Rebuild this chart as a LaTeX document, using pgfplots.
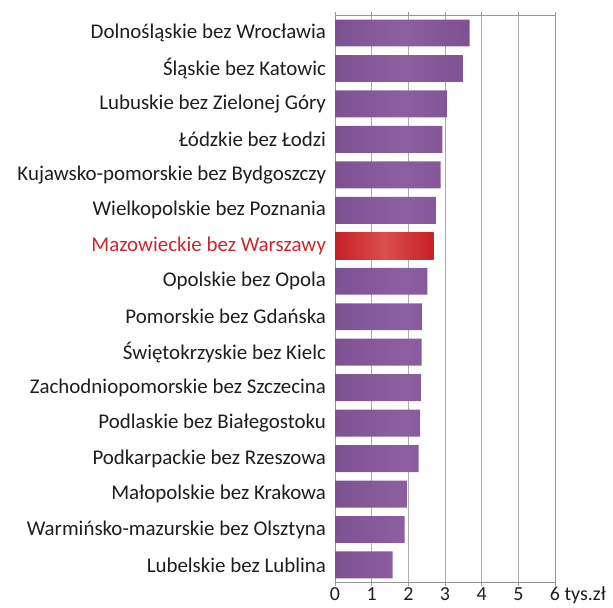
\documentclass[border=0pt]{standalone}
\usepackage{pgfplots}
\pgfplotsset{compat=1.18}
\usepackage{fontspec}
\setmainfont{Carlito}
\definecolor{purpE}{RGB}{126,82,146}
\definecolor{purpM}{RGB}{140,96,160}
\definecolor{redE}{RGB}{198,32,38}
\definecolor{redM}{RGB}{218,78,76}
\definecolor{labred}{RGB}{200,40,45}
\definecolor{txt}{RGB}{30,30,30}
\begin{document}
\begin{tikzpicture}[x=1bp,y=1bp]
\path[use as bounding box] (0,0) rectangle (613,608);
\begin{axis}[
  at={(335bp,25.3bp)}, anchor=south west,
  scale only axis, width=220bp, height=567.4bp,
  xmin=0, xmax=6, ymin=-0.5, ymax=15.5,
  y dir=reverse,
  xtick={0,1,2,3,4,5,6},
  xticklabels={0,1,2,3,4,5,{6\rlap{ tys.z\l}}},
  ytick={0,...,15},
  yticklabels={
    Dolnośląskie bez Wrocławia,
    Śląskie bez Katowic,
    Lubuskie bez Zielonej Góry,
    Łódzkie bez Łodzi,
    Kujawsko-pomorskie bez Bydgoszczy,
    Wielkopolskie bez Poznania,
    \textcolor{labred}{Mazowieckie bez Warszawy},
    Opolskie bez Opola,
    Pomorskie bez Gdańska,
    Świętokrzyskie bez Kielc,
    Zachodniopomorskie bez Szczecina,
    Podlaskie bez Białegostoku,
    Podkarpackie bez Rzeszowa,
    Małopolskie bez Krakowa,
    Warmińsko-mazurskie bez Olsztyna,
    Lubelskie bez Lublina},
  /pgf/number format/assume math mode=true,
  yticklabel style={font=\fontsize{21}{24}\selectfont, text=txt, xshift=-2bp},
  xticklabel style={font=\fontsize{20}{22}\selectfont, text=txt, inner sep=0bp,
     text height=12bp, text depth=0bp, yshift=-2.5bp},
  ytick style={draw=none},
  xtick style={color=gray!80, line width=0.8pt},
  tick align=outside, major tick length=3.5bp,
  xmajorgrids, grid style={color=gray!65, line width=0.9pt},
  axis line style={color=gray!85, line width=0.9pt},
  xbar, bar width=0.76, bar shift=0pt,
]
\addplot[draw=none, left color=purpE, right color=purpE, middle color=purpM] coordinates {
 (3.67,0) (3.49,1) (3.05,2) (2.93,3) (2.88,4) (2.75,5)
 (2.52,7) (2.37,8) (2.36,9) (2.34,10) (2.32,11) (2.28,12)
 (1.96,13) (1.90,14) (1.57,15)};
\addplot[draw=none, left color=redE, right color=redE, middle color=redM] coordinates {(2.69,6)};
\end{axis}
\end{tikzpicture}
\end{document}
